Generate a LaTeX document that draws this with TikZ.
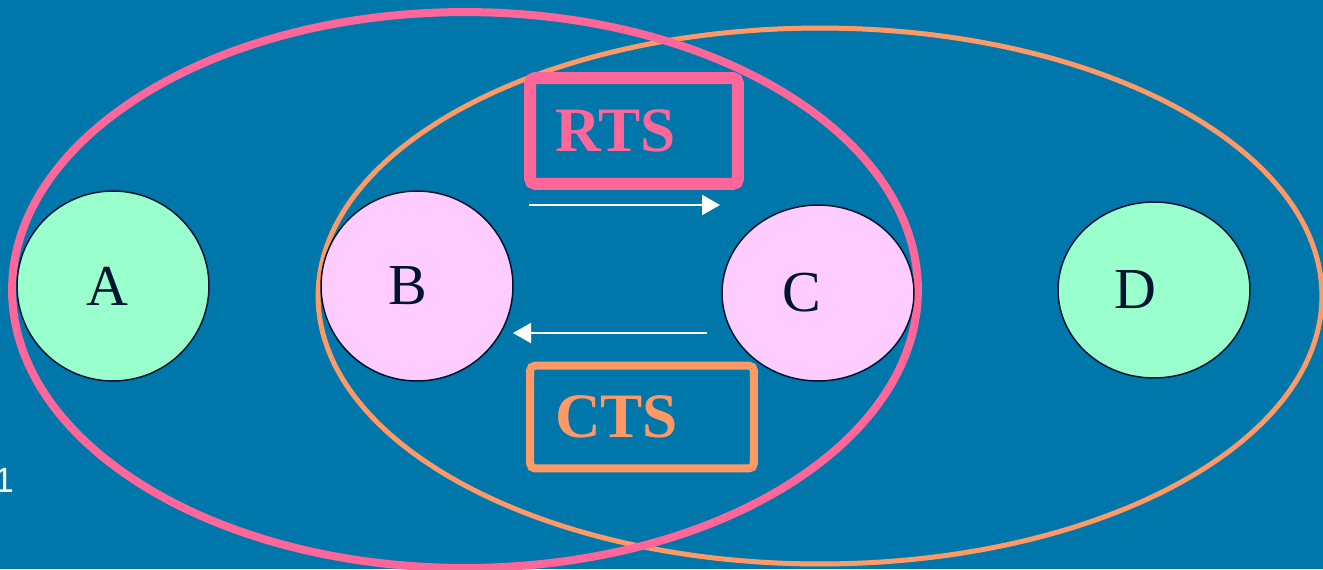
\documentclass[tikz,border=0pt]{standalone}
\usepackage{fontspec}
\setmainfont{Liberation Serif}
\newfontfamily\labelsans{Liberation Sans}
\usetikzlibrary{arrows.meta}
\definecolor{bgblue}{HTML}{0077AA}
\definecolor{rtspink}{HTML}{FF6699}
\definecolor{ctsorange}{HTML}{FF9966}
\definecolor{mint}{HTML}{99FFCC}
\definecolor{lilac}{HTML}{FFCCFF}
\definecolor{inkblue}{HTML}{001433}
\tikzset{
  station/.style={ellipse, draw=inkblue, line width=0.03cm, inner sep=0pt,
    minimum width=3.84cm, text=inkblue, font=\fontsize{33}{36}\selectfont},
  outer/.style={mint, fill=mint},
  inner/.style={fill=lilac},
  framebox/.style={rectangle, rounded corners=3pt, inner ysep=0pt,
    inner xsep=0.5cm, align=left, font=\bfseries\fontsize{36}{40}\selectfont},
  msg/.style={draw=white, line width=0.04cm,
    -{Triangle[length=0.36cm, width=0.4cm, fill=white]}}
}
\begin{document}
\begin{tikzpicture}[x=0.02cm, y=-0.02cm]
  \fill[bgblue] (0,0) rectangle (1323,569);
  \useasboundingbox (0,0) rectangle (1323,569);
  \usetikzlibrary{shapes.geometric}

  % ranges of C (orange) and B (pink)
  \draw[ctsorange, line width=0.1cm] (820,296) ellipse [x radius=10.04cm, y radius=5.36cm];
  \draw[rtspink, line width=0.16cm] (465,290) ellipse [x radius=9.06cm, y radius=5.56cm];

  % control frames
  \node[framebox, draw=rtspink, text=rtspink, line width=0.24cm,
        minimum width=4.16cm, minimum height=2.12cm, text width=3.16cm]
        (rts) at (634,131) {RTS};
  \node[framebox, draw=ctsorange, text=ctsorange, line width=0.16cm,
        minimum width=4.48cm, minimum height=2.06cm, text width=3.48cm]
        (cts) at (642,417) {CTS};

  % stations
  \node[station, fill=mint, minimum height=3.8cm]  (A) at (113,286) {A\kern0.24cm};
  \node[station, fill=lilac, minimum height=3.8cm] (B) at (417,286) {B\kern0.36cm};
  \node[station, fill=lilac, minimum height=3.52cm] (C) at (818,293) {C\kern0.64cm};
  \node[station, fill=mint, minimum height=3.52cm]  (D) at (1154,290) {D\kern0.76cm};

  % frame exchange
  \coordinate (rtsfrom) at (529,205);
  \coordinate (rtsto) at (720,205);
  \coordinate (ctsfrom) at (707,333);
  \coordinate (ctsto) at (513,333);
  \draw[msg] (rtsfrom) -- (rtsto);
  \draw[msg] (ctsfrom) -- (ctsto);

  % page number
  \node[anchor=base west, inner sep=0pt, text=white,
        font=\labelsans\fontsize{20}{22}\selectfont] (pageno) at (-6,492) {1};
\end{tikzpicture}
\end{document}
